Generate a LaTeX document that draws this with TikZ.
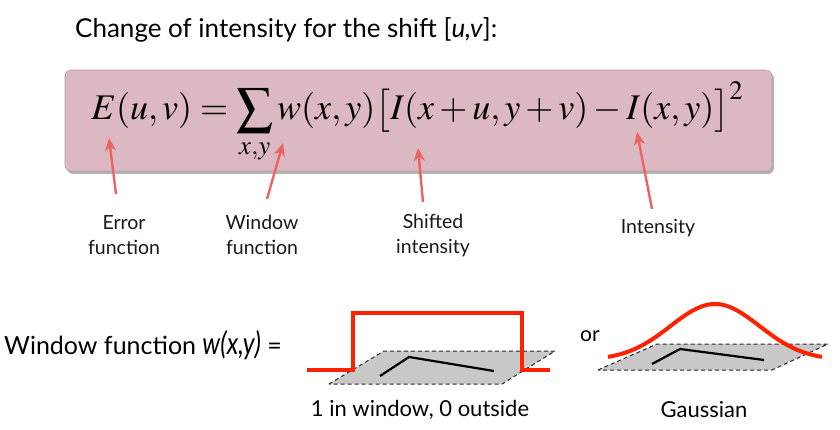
\documentclass[tikz,border=0pt]{standalone}
\usepackage{mathptmx}
\usepackage[no-math]{fontspec}
\setmainfont{Lato}
\usepackage{graphicx}
\usetikzlibrary{arrows.meta, positioning}
\definecolor{BOX}{HTML}{DCB8C2}
\definecolor{ARR}{HTML}{EE6262}
\definecolor{WIN}{HTML}{FF2200}
\definecolor{PLN}{HTML}{C8C8C8}
\tikzset{
  eqbox/.style={% pink box round the formula
      rounded corners=6pt,
      fill=BOX,
      draw=BOX!85!black,
      line width=0.6pt,
  },
  lbl/.style={% names under the formula
      align=center,
      font=\fontsize{19.5}{25}\selectfont,
      text=black!90,
  },
  pointer/.style={
      draw=ARR, line width=2.4pt,
      -{Stealth[length=13pt,width=11pt,inset=4pt]},
  },
  winline/.style={draw=WIN, line width=4pt},
  plane/.style={fill=PLN, draw=black!85, dash pattern=on 4pt off 3pt, line width=1pt},
  patch/.style={draw=black, line width=2.2pt},
}

\begin{document}
\begin{tikzpicture}[x=1pt,y=-1pt]
    \useasboundingbox (0,0) rectangle (840,430);
    % title
    \node[anchor=base west, inner sep=0pt, font=\fontsize{26}{30}\selectfont] (title) at (75,38)
      {Change of intensity for the shift [\textit{u,v}]:};
    % formula box
    \fill[black!30, rounded corners=6pt] (67,73) rectangle (774,174);
    \draw[eqbox] (65,70) rectangle (772,171);
    \node[anchor=base, inner sep=0pt] (eq) at (418,120)
      {\resizebox{653pt}{!}{$\displaystyle E(u,v)=\sum_{x,y} w(x,y)\big[I(x+u,y+v)-I(x,y)\big]^{2}$}};
    % labels
    \node[lbl] (err) at (124,235) {Error\\function};
    \node[lbl] (win) at (262,235) {Window\\function};
    \node[lbl] (shf) at (433,235) {Shifted\\intensity};
    \node[lbl] (int) at (658,228) {Intensity};
    % arrow ends
    \coordinate (errS) at (116,194); \coordinate (errT) at (109,138);
    \coordinate (winS) at (267,199); \coordinate (winT) at (283,143);
    \coordinate (shfS) at (423,202); \coordinate (shfT) at (418,148);
    \coordinate (intS) at (652,209); \coordinate (intT) at (637,132);
    \foreach \n in {err,win,shf,int}
      \draw[pointer] (\n S) -- (\n T);
    % window function line
    \node[anchor=base west, inner sep=0pt, font=\fontsize{25}{28}\selectfont] (wfun) at (4,354)
      {Window function {\fontsize{31}{34}\selectfont\itshape\scalebox{0.8}[1]{w(x,y)}} =};
    % box window
    \draw[plane] (329,384) -- (384,351) -- (555,351) -- (502,384) -- cycle;
    \draw[patch] (380,376) -- (409,357) -- (494,371);
    \draw[winline] (307,370) -- (353,370) -- (353,313) -- (522,313) -- (522,370) -- (550,370);
    \node[font=\fontsize{22}{26}\selectfont] (box1) at (420,410) {1 in window, 0 outside};
    % gaussian window
    \node[font=\fontsize{21}{24}\selectfont] (or) at (590,336) {or};
    \draw[plane] (598,370) -- (657,344) -- (828,344) -- (772,370) -- cycle;
    \draw[patch] (652,364) -- (680,349) -- (764,360);
    \draw[winline] plot[domain=-1:1, samples=80, smooth] ({715+107*\x},{360-56*exp(-(1.7*\x)^2)});
    \node[font=\fontsize{22}{26}\selectfont] (gau) at (704,410) {Gaussian};
\end{tikzpicture}
\end{document}
